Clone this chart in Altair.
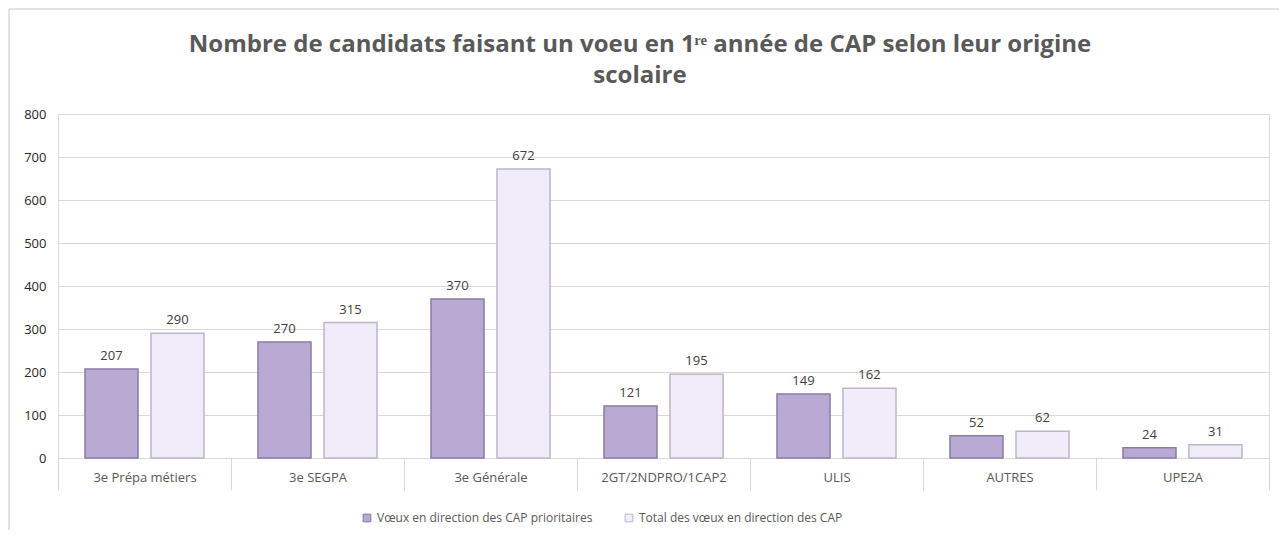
import altair as alt
import pandas as pd

categories = ["3e Prépa métiers", "3e SEGPA", "3e Générale", "2GT/2NDPRO/1CAP2", "ULIS", "AUTRES", "UPE2A"]
series = ["Vœux en direction des CAP prioritaires", "Total des vœux en direction des CAP"]
prioritaires = [207, 270, 370, 121, 149, 52, 24]
totaux = [290, 315, 672, 195, 162, 62, 31]
y_ticks = [0, 100, 200, 300, 400, 500, 600, 700, 800]
title_lines = ["Nombre de candidats faisant un voeu en 1ʳᵉ année de CAP selon leur origine", "scolaire"]

rows = []
for c, a, b in zip(categories, prioritaires, totaux):
    rows.append({"cat": c, "serie": series[0], "v": a})
    rows.append({"cat": c, "serie": series[1], "v": b})
df = pd.DataFrame(rows)

FONT = "Open Sans"
GREY = "#595959"
W, H = 1211, 344

x = alt.X("cat:N", sort=categories,
          scale=alt.Scale(paddingInner=0, paddingOuter=0),
          axis=alt.Axis(title=None, labelAngle=0, tickBand="extent", tickSize=32,
                        tickColor="#d9d9d9", domainColor="#d9d9d9", labelPadding=-19,
                        labelFont=FONT, labelFontSize=13, labelColor=GREY))
xo = alt.XOffset("serie:N", sort=series,
                 scale=alt.Scale(paddingInner=0.197, paddingOuter=0.409))
y = alt.Y("v:Q", scale=alt.Scale(domain=[0, 800]),
          axis=alt.Axis(title=None, values=y_ticks, domain=False, ticks=False,
                        labelPadding=12, gridColor="#d9d9d9",
                        labelFont=FONT, labelFontSize=13, labelColor="#262626"))
color = alt.Color("serie:N", sort=series,
                  scale=alt.Scale(domain=series, range=["#b9aad4", "#f1ecf9"]),
                  legend=alt.Legend(title=None, orient="none", direction="horizontal",
                                    legendX=303, legendY=398, symbolType="square",
                                    symbolSize=60, symbolStrokeColor="#8f84a8",
                                    symbolStrokeWidth=1, columnPadding=30, labelLimit=0,
                                    labelFont=FONT, labelFontSize=12, labelColor=GREY))
stroke = alt.Stroke("serie:N", sort=series,
                    scale=alt.Scale(domain=series, range=["#8a7ba8", "#bdb5c8"]),
                    legend=None)

bars = alt.Chart(df).mark_bar(strokeWidth=1.5).encode(x=x, xOffset=xo, y=y, color=color, stroke=stroke)
labels = alt.Chart(df).mark_text(dy=-13, font=FONT, fontSize=13, color="#404040").encode(
    x=x, xOffset=xo, y=y, text="v:Q")

one = pd.DataFrame({"a": [0]})
border_top = alt.Chart(one).mark_rule(stroke="#d9d9d9", strokeWidth=1.5).encode(
    x=alt.value(-49), x2=alt.value(W + 10), y=alt.value(-105))
border_left = alt.Chart(one).mark_rule(stroke="#d9d9d9", strokeWidth=1.5).encode(
    x=alt.value(-49), y=alt.value(-105), y2=alt.value(H + 72))
title1 = alt.Chart(one).mark_text(text=title_lines[0], font=FONT, fontSize=24, fontWeight="bold",
                                  color=GREY, align="center", baseline="middle").encode(
    x=alt.value(582), y=alt.value(-69))
title2 = alt.Chart(one).mark_text(text=title_lines[1], font=FONT, fontSize=24, fontWeight="bold",
                                  color=GREY, align="center", baseline="middle").encode(
    x=alt.value(582), y=alt.value(-38))

chart = alt.layer(border_top, border_left, title1, title2, bars, labels).properties(
    width=W, height=H,
    autosize=alt.AutoSizeParams(type="none"),
    padding={"left": 50, "top": 106, "right": 10, "bottom": 72},
).configure_view(stroke=None).configure(background="white")

chart.save("out.html", embed_options={"renderer": "svg", "actions": False})
